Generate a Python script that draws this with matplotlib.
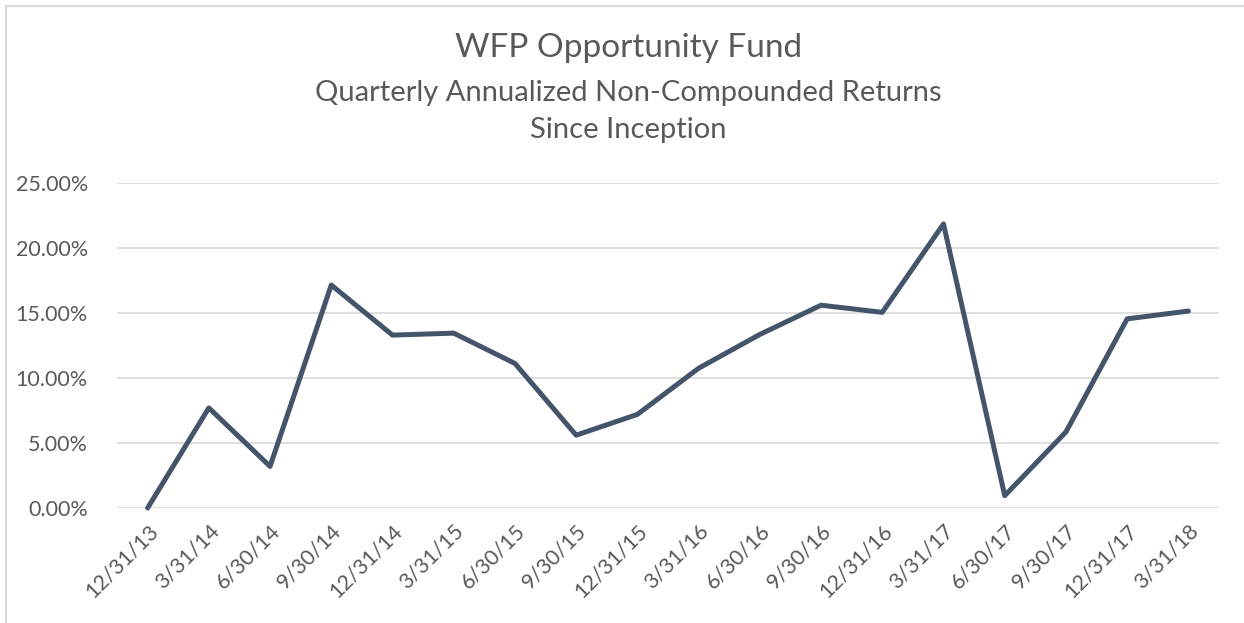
import matplotlib.pyplot as plt
from matplotlib.patches import Rectangle
from matplotlib.ticker import FuncFormatter

plt.rcParams['font.family'] = ['Lato', 'DejaVu Sans']

# quarter-end dates and annualized returns (%)
quarters = ['12/31/13', '3/31/14', '6/30/14', '9/30/14', '12/31/14', '3/31/15',
            '6/30/15', '9/30/15', '12/31/15', '3/31/16', '6/30/16', '9/30/16',
            '12/31/16', '3/31/17', '6/30/17', '9/30/17', '12/31/17', '3/31/18']
returns = [0.0, 7.7, 3.2, 17.15, 13.3, 13.45,
           11.12, 5.6, 7.2, 10.75, 13.35, 15.6,
           15.05, 21.85, 0.95, 5.85, 14.55, 15.15]
y_ticks = [0, 5, 10, 15, 20, 25]

text_col = '#595959'
grid_col = '#D9D9D9'
line_col = '#44546A'

fig = plt.figure(figsize=(12.44, 6.23), dpi=100)
ax = fig.add_axes([117 / 1244, 1 - 508 / 623, (1219 - 117) / 1244, (508 - 183) / 623])

x = list(range(len(quarters)))
ax.plot(x, returns, color=line_col, linewidth=3.6, solid_joinstyle='round',
        solid_capstyle='round', clip_on=False, zorder=3)

ax.set_xlim(-0.5, len(quarters) - 0.5)
ax.set_ylim(0, 25)
ax.set_yticks(y_ticks)
ax.yaxis.set_major_formatter(FuncFormatter(lambda v, p: f'{v:.2f}%'))
ax.set_xticks(x)
ax.set_xticklabels(quarters, rotation=45, ha='right', rotation_mode='anchor')

ax.grid(axis='y', color=grid_col, linewidth=1.2)
ax.set_axisbelow(True)
for s in ax.spines.values():
    s.set_visible(False)
ax.tick_params(axis='both', length=0, labelsize=15.5, labelcolor=text_col)
ax.tick_params(axis='y', pad=21)
ax.tick_params(axis='x', pad=9)

# titles
fig.text(0.505, 1 - 48 / 623, 'WFP Opportunity Fund', ha='center', va='center',
         fontsize=24, color=text_col)
fig.text(0.505, 1 - 93 / 623, 'Quarterly Annualized Non-Compounded Returns',
         ha='center', va='center', fontsize=21, color=text_col)
fig.text(0.505, 1 - 130 / 623, 'Since Inception', ha='center', va='center',
         fontsize=21, color=text_col)

# outer chart border (only left and top visible)
fig.patches.append(Rectangle((6 / 1244, -0.1), 1.2, 1.1 - 6 / 623,
                             transform=fig.transFigure, fill=False,
                             edgecolor=grid_col, linewidth=1.5))

fig.savefig('out.png', dpi=100)
